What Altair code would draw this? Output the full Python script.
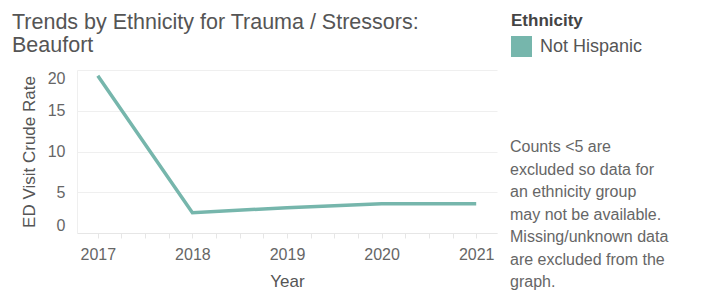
import altair as alt
import pandas as pd

years = [2017, 2018, 2019, 2020, 2021]
rates = [19.3, 2.5, 3.1, 3.6, 3.6]
ethnicity = ["Not Hispanic"] * 5
title_lines = ["Trends by Ethnicity for Trauma / Stressors:", "Beaufort"]
note_lines = ["Counts <5 are", "excluded so data for", "an ethnicity group",
              "may not be available.", "Missing/unknown data",
              "are excluded from the", "graph."]
x_ticks = [2017, 2017.25, 2017.5, 2017.75, 2018, 2018.25, 2018.5, 2018.75,
           2019, 2019.25, 2019.5, 2019.75, 2020, 2020.25, 2020.5, 2020.75, 2021]
y_ticks = [0, 5, 10, 15, 20]

df = pd.DataFrame({"Year": years, "Rate": rates, "Ethnicity": ethnicity})
FONT = "Liberation Sans"
COLOR = "#76b6ac"

x = alt.X("Year:Q", scale=alt.Scale(domain=[2016.78, 2021.22], nice=False, zero=False),
          axis=alt.Axis(values=x_ticks, title="Year",
                        labelExpr="datum.value % 1 == 0 ? datum.value : ''",
                        grid=False, tickSize=5, tickColor="#e6e6e6",
                        domainColor="#e6e6e6", labelPadding=8, titlePadding=11))
y = alt.Y("Rate:Q", scale=alt.Scale(domain=[0, 20], nice=False),
          axis=alt.Axis(values=y_ticks, title="ED Visit Crude Rate", grid=True,
                        gridColor="#efefef", ticks=False, domainColor="#efefef",
                        labelPadding=12, labelFlush=True, titlePadding=9))

line = alt.Chart(df).mark_line(strokeWidth=3.5, color=COLOR).encode(x=x, y=y)

legend_layer = alt.Chart(df).mark_square(size=0, filled=True).encode(
    x=x, y=y,
    color=alt.Color("Ethnicity:N", scale=alt.Scale(range=[COLOR]),
                    legend=alt.Legend(title="Ethnicity", orient="none",
                                      legendX=434, legendY=-57,
                                      symbolType="square", symbolSize=441,
                                      symbolStrokeWidth=0, symbolOpacity=1,
                                      titleFontSize=17, titleFontWeight="bold",
                                      titleColor="#444", titleFont=FONT,
                                      titlePadding=6, labelOffset=8,
                                      labelFontSize=18, labelColor="#555",
                                      labelFont=FONT, rowPadding=4)))

title = alt.Chart(alt.Data(values=[{"a": 1}])).mark_text(
    align="left", baseline="alphabetic", font=FONT, fontSize=21.5, color="#555",
    lineHeight=23, text=title_lines).encode(x=alt.value(-65), y=alt.value(-41))

note = alt.Chart(alt.Data(values=[{"a": 1}])).mark_text(
    align="left", baseline="top", font=FONT, fontSize=16, color="#666",
    lineHeight=22.5, text=note_lines).encode(x=alt.value(433), y=alt.value(69))

chart = alt.layer(line, legend_layer, title, note).properties(
    width=420, height=163,
    autosize=alt.AutoSizeParams(type="none"),
    padding={"left": 69, "top": 62, "right": 215, "bottom": 60},
).configure_view(stroke=None).configure_axis(
    labelFont=FONT, titleFont=FONT, labelFontSize=16, titleFontSize=17,
    labelColor="#666", titleColor="#555", titleFontWeight="normal"
)

chart.save("out.html", embed_options={"renderer": "svg", "actions": False})
